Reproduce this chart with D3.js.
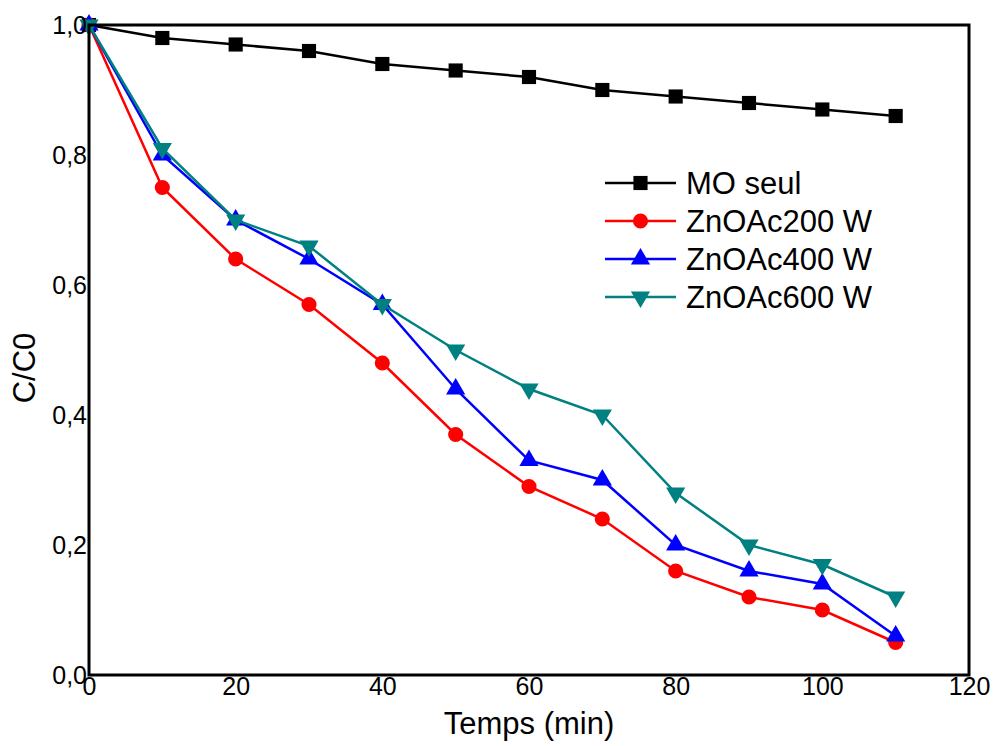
<!DOCTYPE html>
<html>
<head>
<meta charset="utf-8">
<script src="https://cdn.jsdelivr.net/npm/d3@7"></script>
<style>
  body { margin: 0; background: #fff; }
  svg { font-family: "Liberation Sans", Arial, sans-serif; }
</style>
</head>
<body>
<svg id="chart" width="997" height="746"></svg>
<script>
const times = [0, 10, 20, 30, 40, 50, 60, 70, 80, 90, 100, 110];
const moSeul = [1.0, 0.98, 0.97, 0.96, 0.94, 0.93, 0.92, 0.90, 0.89, 0.88, 0.87, 0.86];
const zn200 = [1.0, 0.75, 0.64, 0.57, 0.48, 0.37, 0.29, 0.24, 0.16, 0.12, 0.10, 0.05];
const zn400 = [1.0, 0.80, 0.70, 0.64, 0.57, 0.44, 0.33, 0.30, 0.20, 0.16, 0.14, 0.06];
const zn600 = [1.0, 0.81, 0.70, 0.66, 0.57, 0.50, 0.44, 0.40, 0.28, 0.20, 0.17, 0.12];
const seriesNames = ["MO seul", "ZnOAc200 W", "ZnOAc400 W", "ZnOAc600 W"];
const xTicks = [0, 20, 40, 60, 80, 100, 120];
const yTicks = [0, 0.2, 0.4, 0.6, 0.8, 1.0];

const svg = d3.select("#chart");
const margin = { top: 25, right: 28, bottom: 71, left: 89 };
const width = 997 - margin.left - margin.right;
const height = 746 - margin.top - margin.bottom;

const x = d3.scaleLinear().domain([0, 120]).range([0, width]);
const y = d3.scaleLinear().domain([0, 1]).range([height, 0]);

const g = svg.append("g")
    .attr("transform", `translate(${margin.left},${margin.top})`);

const series = [
    { name: seriesNames[0], values: moSeul, color: "#000000", symbol: d3.symbolSquare, size: 200, rot: 0 },
    { name: seriesNames[1], values: zn200, color: "#ff0000", symbol: d3.symbolCircle, size: 180, rot: 0 },
    { name: seriesNames[2], values: zn400, color: "#0000ff", symbol: d3.symbolTriangle, size: 160, rot: 0 },
    { name: seriesNames[3], values: zn600, color: "#008080", symbol: d3.symbolTriangle, size: 160, rot: 180 }
];

const line = d3.line()
    .x((d, i) => x(times[i]))
    .y(d => y(d));

series.forEach(s => {
    g.append("path")
        .datum(s.values)
        .attr("fill", "none")
        .attr("stroke", s.color)
        .attr("stroke-width", 2.5)
        .attr("d", line);
    g.selectAll(null)
        .data(s.values)
        .join("path")
        .attr("d", d3.symbol().type(s.symbol).size(s.size))
        .attr("fill", s.color)
        .attr("transform", (d, i) => `translate(${x(times[i])},${y(d)}) rotate(${s.rot})`);
});

// frame
g.append("rect")
    .attr("x", 0).attr("y", 0)
    .attr("width", width).attr("height", height)
    .attr("fill", "none")
    .attr("stroke", "#000")
    .attr("stroke-width", 3);

// axes (labels only, no tick marks)
const bottomAxis = d3.axisBottom(x).tickValues(xTicks).tickSize(0).tickPadding(2)
    .tickFormat(d3.format("d"));
const xAxisG = g.append("g")
    .attr("transform", `translate(0,${height})`)
    .call(bottomAxis);
xAxisG.select(".domain").remove();
xAxisG.selectAll("text").attr("font-size", 25).attr("fill", "#000")
    .attr("font-family", "Liberation Sans, Arial, sans-serif");

const fmtComma = d => d3.format(".1f")(d).replace(".", ",");
const leftAxis = d3.axisLeft(y).tickValues(yTicks).tickSize(0).tickPadding(2)
    .tickFormat(fmtComma);
const yAxisG = g.append("g").call(leftAxis);
yAxisG.select(".domain").remove();
yAxisG.selectAll("text").attr("font-size", 25).attr("fill", "#000")
    .attr("font-family", "Liberation Sans, Arial, sans-serif");

// axis titles
svg.append("text")
    .attr("x", margin.left + width / 2)
    .attr("y", 734)
    .attr("text-anchor", "middle")
    .attr("font-size", 31)
    .text("Temps (min)");

svg.append("text")
    .attr("transform", `translate(35,368) rotate(-90)`)
    .attr("text-anchor", "middle")
    .attr("font-size", 31)
    .text("C/C0");

// legend
const legend = g.append("g")
    .attr("transform", `translate(${605 - margin.left},${183 - margin.top})`);
series.forEach((s, i) => {
    const row = legend.append("g").attr("transform", `translate(0,${i * 38})`);
    row.append("line")
        .attr("x1", 0).attr("x2", 71)
        .attr("y1", 0).attr("y2", 0)
        .attr("stroke", s.color)
        .attr("stroke-width", 2.5);
    row.append("path")
        .attr("d", d3.symbol().type(s.symbol).size(s.size))
        .attr("fill", s.color)
        .attr("transform", `translate(35.5,0) rotate(${s.rot})`);
    row.append("text")
        .attr("x", 81)
        .attr("y", 0)
        .attr("dy", "0.35em")
        .attr("font-size", 31)
        .text(s.name);
});
</script>
</body>
</html>
